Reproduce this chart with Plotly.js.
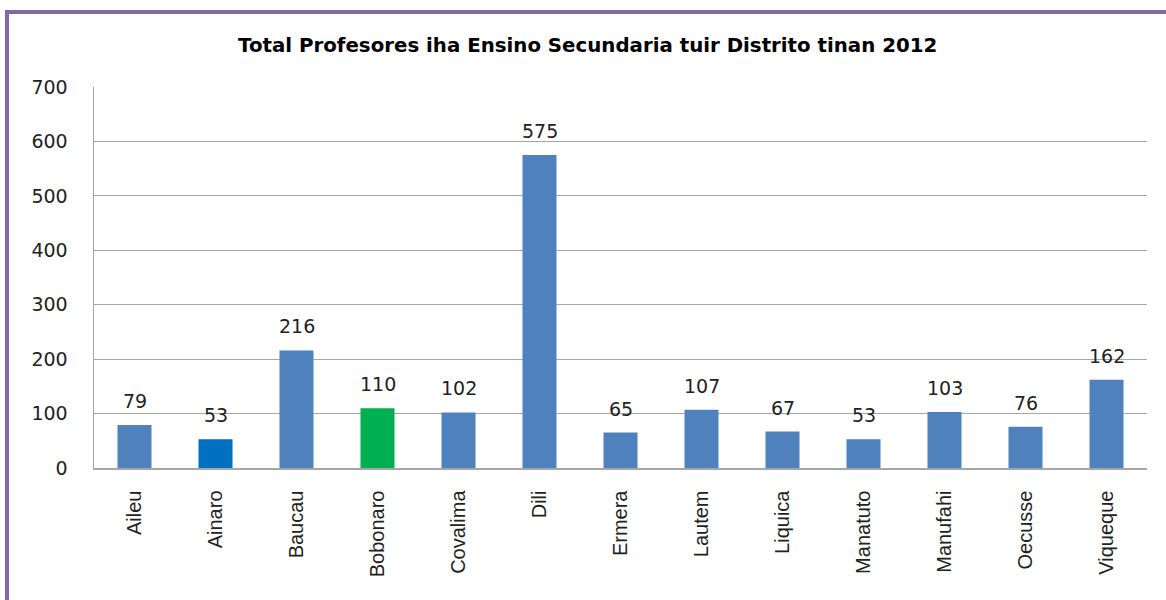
<!DOCTYPE html>
<html>
<head>
<meta charset="utf-8">
<script src="https://cdn.plot.ly/plotly-3.0.1.min.js"></script>
<style>
html,body{margin:0;padding:0;background:#fff;}
#wrap{position:relative;width:1166px;height:600px;overflow:hidden;}
#chart{position:absolute;left:0;top:0;width:1166px;height:600px;}
#frame{position:absolute;left:5px;top:10px;width:1200px;height:700px;border:4px solid #8567A6;box-sizing:border-box;pointer-events:none;}
</style>
</head>
<body>
<div id="wrap"><div id="chart"></div><div id="frame"></div></div>
<script>
const categories = ["Aileu","Ainaro","Baucau","Bobonaro","Covalima","Dili","Ermera","Lautem","Liquica","Manatuto","Manufahi","Oecusse","Viqueque"];
const values = [79,53,216,110,102,575,65,107,67,53,103,76,162];
const barColors = ["#4F81BD","#0070C0","#4F81BD","#00B050","#4F81BD","#4F81BD","#4F81BD","#4F81BD","#4F81BD","#4F81BD","#4F81BD","#4F81BD","#4F81BD"];
const yTicks = [0,100,200,300,400,500,600,700];
const titleText = "Total Profesores iha Ensino Secundaria tuir Distrito tinan 2012";

const numFont = "DejaVu Sans, sans-serif";
const catFont = "Liberation Sans, Arial, sans-serif";

const labelAnnotations = categories.map((c, i) => ({
  x: c, y: values[i], xref: "x", yref: "y",
  text: String(values[i]), showarrow: false,
  yanchor: "bottom", yshift: 11,
  font: {family: numFont, size: 19, color: "#222"}
}));

Plotly.newPlot("chart", [{
  type: "bar",
  x: categories,
  y: values,
  marker: {color: barColors},
  hoverinfo: "x+y"
}], {
  width: 1166, height: 600,
  margin: {l: 94, r: 19, t: 87, b: 132},
  paper_bgcolor: "#fff", plot_bgcolor: "#fff",
  bargap: 0.58,
  showlegend: false,
  annotations: labelAnnotations,
  title: {text: titleText, font: {family: numFont, size: 19.8, color: "#000", weight: "bold"}, x: 0.504, xanchor: "center", y: 0.925, yanchor: "middle"},
  xaxis: {
    tickangle: -90,
    tickfont: {family: catFont, size: 20, color: "#222"},
    showline: true, linecolor: "#A6A6A6", linewidth: 1.5,
    ticks: "", ticklabelstandoff: 13, showgrid: false
  },
  yaxis: {
    range: [0, 700], tickvals: yTicks, ticktext: yTicks.map(String),
    tickfont: {family: numFont, size: 19, color: "#222"},
    showline: true, linecolor: "#A6A6A6", linewidth: 1.5,
    showgrid: true, gridcolor: "#A6A6A6", gridwidth: 1.2,
    ticks: "", ticklabelstandoff: 21, zeroline: false
  }
}, {displayModeBar: false, staticPlot: true});
</script>
</body>
</html>
